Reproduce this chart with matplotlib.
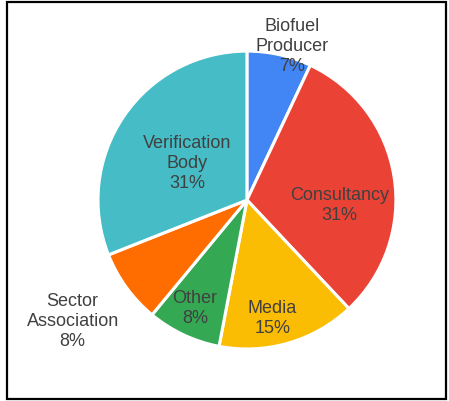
import matplotlib.pyplot as plt
from matplotlib.patches import Rectangle

# respondent share by stakeholder type
labels = ['Biofuel\nProducer', 'Consultancy', 'Media', 'Other',
          'Sector\nAssociation', 'Verification\nBody']
shares = [7, 31, 15, 8, 8, 31]
colors = ['#4285F4', '#EA4335', '#FBBC04', '#34A853', '#FF6D01', '#46BDC6']

# where each label sits (pie radius = 1)
label_pos = [(0.30, 1.04), (0.62, -0.03), (0.17, -0.79),
             (-0.35, -0.72), (-1.17, -0.81), (-0.40, 0.25)]

plt.rcParams['font.family'] = ['Liberation Sans', 'DejaVu Sans']

fig = plt.figure(figsize=(4.49, 4.02), dpi=100)
ax = fig.add_axes([0.218, 0.1294, 0.664, 0.741])

ax.pie(shares, colors=colors, startangle=90, counterclock=False,
       radius=1, wedgeprops=dict(edgecolor='white', linewidth=2.2))

for lab, val, (x, y) in zip(labels, shares, label_pos):
    ax.text(x, y, f'{lab}\n{val}%', ha='center', va='center',
            fontsize=13, color='#404040', linespacing=1.22)

ax.set_xlim(-1, 1)
ax.set_ylim(-1, 1)
ax.set_aspect('equal')
ax.axis('off')

# black frame round the whole chart
fig.patches.append(Rectangle((0.016, 0.005), 0.978, 0.988, transform=fig.transFigure,
                             fill=False, edgecolor='black', linewidth=1.6))

fig.savefig('out.png', dpi=100)
